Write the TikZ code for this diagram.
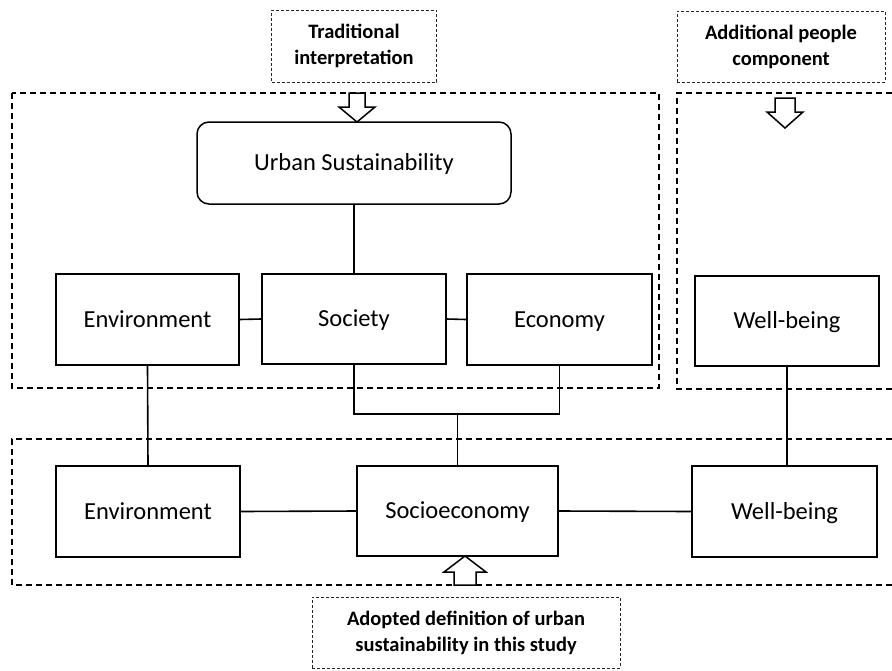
\documentclass[tikz,border=0pt]{standalone}
\usepackage{fontspec}
\setmainfont{Carlito}
\usepackage{tikz}
\usetikzlibrary{arrows}
\usetikzlibrary{backgrounds}

\tikzset{
  box/.style={draw, line width=1.5pt, inner sep=0pt, text height=18pt, text depth=2.2pt,
              font=\fontsize{24.5}{29}\selectfont},
  tag/.style={draw=black!85, line width=0.9pt, dash pattern=on 3pt off 2pt, align=center,
              inner sep=0pt, font=\bfseries\fontsize{20.5}{26}\selectfont},
  frame/.style={line width=1.1pt, dash pattern=on 6pt off 4pt},
  link/.style={line width=1.6pt},
  fatarrow/.style={draw, line width=1.5pt, fill=white, line join=miter}
}

\begin{document}
\begin{tikzpicture}[x=1pt,y=-1pt]
        \useasboundingbox (0,0) rectangle (892,670);

        % dashed groups
        \draw[frame] (12,93) rectangle (659,388);
        \draw[frame] (892,93) -- (677,93) -- (677,389) -- (892,389);
        \draw[frame] (892,439) -- (12,439) -- (12,585) -- (892,585);

        % labels
        \node[tag, minimum width=165, minimum height=72] (trad) at (354,46) {Traditional\\interpretation};
        \node[tag, minimum width=208, minimum height=71] (people) at (781,46.5) {Additional people\\component};
        \node[tag, minimum width=308, minimum height=71] (adopted) at (466,632.5) {Adopted definition of urban\\sustainability in this study};

        % traditional interpretation
        \node[box, rounded corners=12pt, minimum width=314, minimum height=82] (urban) at (354,163) {Urban Sustainability};
        \node[box, minimum width=183, minimum height=91] (env) at (147.5,319.5) {Environment};
        \node[box, minimum width=184, minimum height=90] (soc) at (354,319) {Society};
        \node[box, minimum width=185, minimum height=91] (eco) at (559.5,319.5) {Economy};
        \node[box, minimum width=184, minimum height=90] (wb) at (787,321) {Well-being};

        % adopted definition
        \node[box, minimum width=184, minimum height=91] (envB) at (148,511.5) {Environment};
        \node[box, minimum width=201, minimum height=90] (socio) at (457.5,511) {Socioeconomy};
        \node[box, minimum width=185, minimum height=91] (wbB) at (784.5,511.5) {Well-being};

        \coordinate (merge) at (457.5,414);

        \draw[link] (urban.south) -- (soc.north);
        \draw[link] (env.east) -- (soc.west);
        \draw[link] (soc.east) -- (eco.west);
        \draw[link] (env.south) -- (envB.north);
        \draw[link] (soc.south) |- (merge) -| (eco.south);
        \draw[link] (merge) -- (socio.north);
        \draw[link] (wb.south) -- (wb.south |- wbB.north);
        \draw[link] (envB.east) -- (socio.west);
        \draw[link] (socio.east) -- (wbB.west);

        % hollow arrows
        \draw[fatarrow] (357,122) -- (339,107) -- (349,107) -- (349,93) -- (365,93) -- (365,107) -- (375,107) -- cycle;
        \draw[fatarrow] (785,128) -- (767,112) -- (775,112) -- (775,98) -- (795,98) -- (795,112) -- (803,112) -- cycle;
        \draw[fatarrow] (465,556) -- (444,572) -- (454,572) -- (454,585) -- (476,585) -- (476,572) -- (486,572) -- cycle;
\end{tikzpicture}
\end{document}
